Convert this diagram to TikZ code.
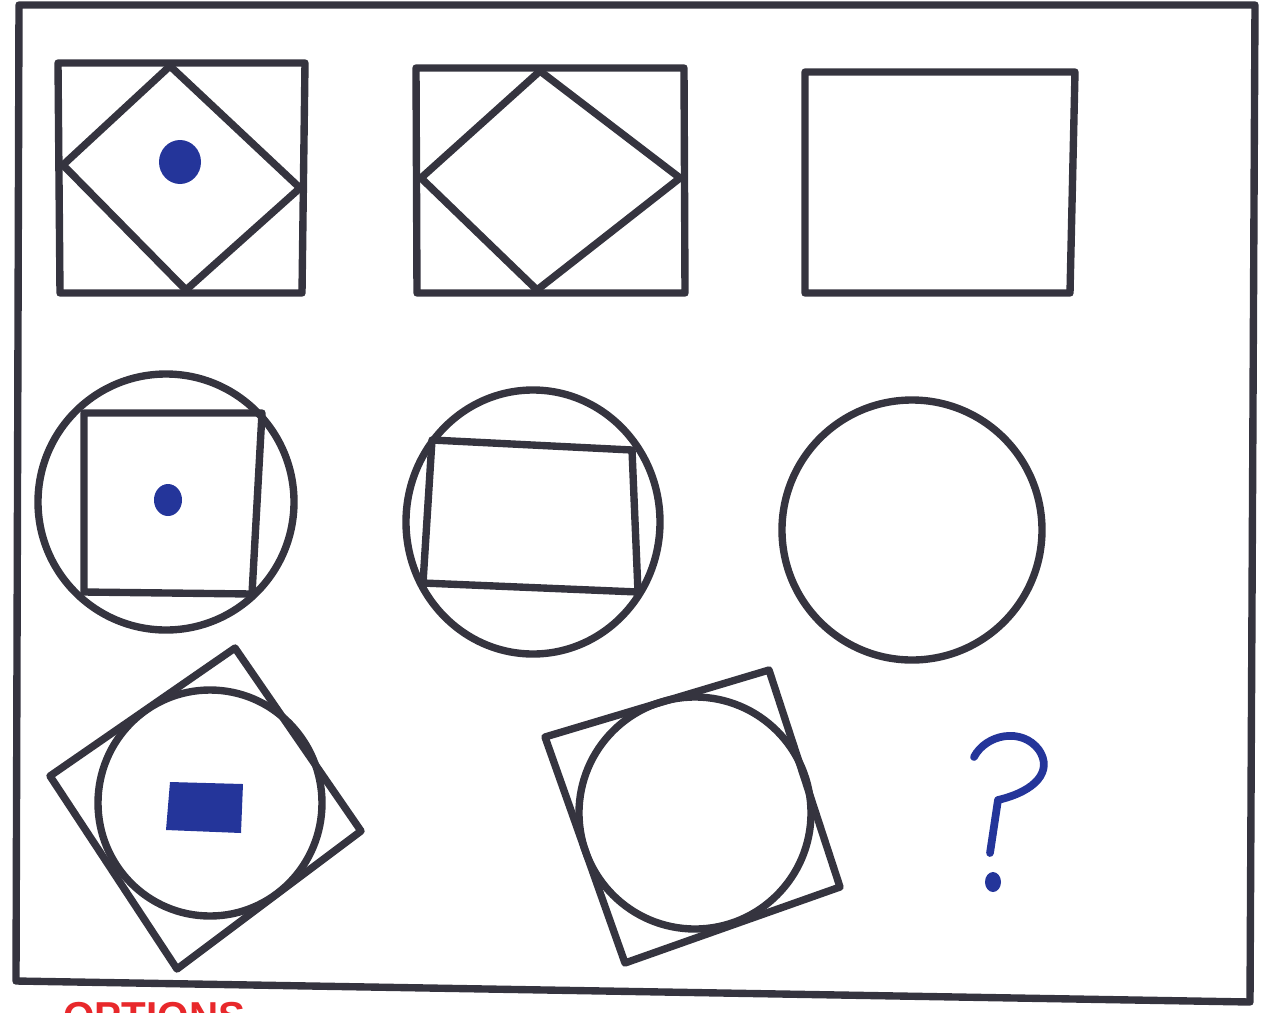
\documentclass[tikz,border=0pt]{standalone}
\usepackage{fontspec}
\setmainfont{Liberation Sans}
\begin{document}
\begin{tikzpicture}[x=0.02cm,y=-0.02cm,
  ink/.style={draw=inkc,line width=4.2pt,line join=round,line cap=round},
  blueink/.style={draw=bluec,line width=4.4pt,line cap=round,line join=round},
  bluefill/.style={fill=bluec,draw=none}]
\definecolor{inkc}{HTML}{35343F}
\definecolor{bluec}{HTML}{24359A}
\definecolor{redc}{HTML}{E8282B}
\useasboundingbox (0,0) rectangle (1272,1012);
\clip (0,0) rectangle (1272,1012);
% outer frame
\draw[ink] (19,5) -- (1255,5) -- (1250,1002) -- (16,981) -- cycle;
% row 1
\draw[ink] (58,63) -- (305,63) -- (302,293) -- (60,293) -- cycle;
\draw[ink] (170,66) -- (300,188) -- (186,290) -- (63,165) -- cycle;
\fill[bluefill] (180,162) ellipse [x radius=21, y radius=22];
\draw[ink] (416,68) -- (684,68) -- (685,293) -- (417,293) -- cycle;
\draw[ink] (540,71) -- (680,178) -- (537,290) -- (421,178) -- cycle;
\draw[ink] (805,72) -- (1075,72) -- (1070,293) -- (805,293) -- cycle;
% row 2
\draw[ink] (166,502) circle [radius=128];
\draw[ink] (84,413) -- (262,413) -- (252,594) -- (84,592) -- cycle;
\fill[bluefill] (168,500) ellipse [x radius=14, y radius=16];
\draw[ink] (533,522) ellipse [x radius=127, y radius=132];
\draw[ink] (432,440) -- (632,450) -- (638,592) -- (423,583) -- cycle;
\draw[ink] (912,530) circle [radius=130];
% row 3
\draw[ink] (235,648) -- (361,831) -- (177,969) -- (50,776) -- cycle;
\draw[ink] (210,803) ellipse [x radius=112, y radius=113];
\fill[bluefill] (170,782) -- (243,784) -- (241,833) -- (166,830) -- cycle;
\draw[ink] (545,737) -- (769,670) -- (840,887) -- (625,963) -- cycle;
\draw[ink] (695,813) ellipse [x radius=116, y radius=116];
% question mark
\draw[blueink] (974,757) .. controls (986,734) and (1022,727) .. (1039,750)
  .. controls (1053,771) and (1036,791) .. (998,800) -- (990,853);
\fill[bluefill] (993,882) ellipse [x radius=8, y radius=10];
% cut-off label
\node[anchor=north west,inner sep=0pt,text=redc,font=\bfseries\fontsize{23}{26}\selectfont] at (63,1002) {OPTIONS};
\end{tikzpicture}
\end{document}
